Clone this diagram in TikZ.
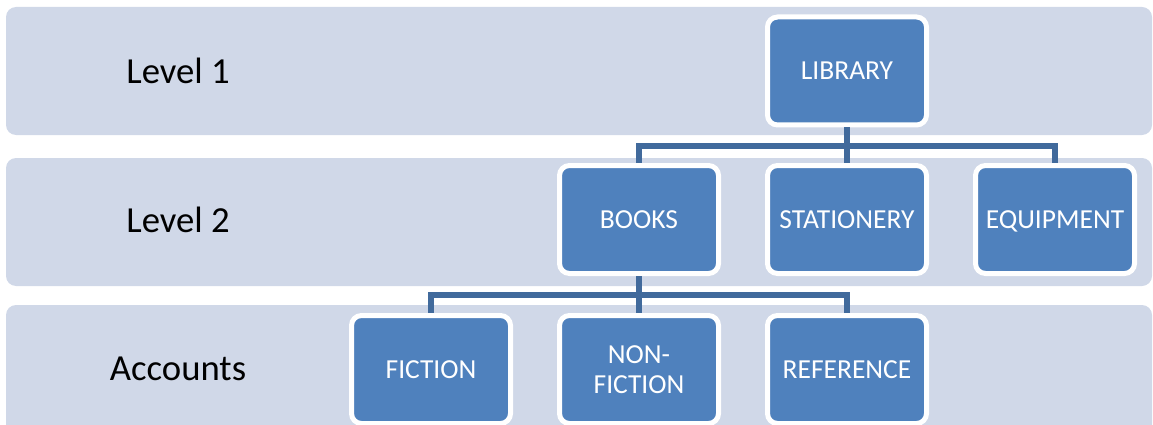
\documentclass[tikz,border=0pt]{standalone}
\usepackage{fontspec}
\setmainfont{Carlito}
\definecolor{band}{HTML}{D0D8E8}
\definecolor{boxfill}{HTML}{4F81BD}
\definecolor{conncol}{HTML}{416A9C}
\begin{document}
\begin{tikzpicture}[x=1pt,y=-1pt,
  bandbox/.style={fill=band, rounded corners=10pt},
  orgbox/.style={draw=white, line width=5pt, fill=boxfill, rounded corners=10pt,
    minimum width=159pt, minimum height=108pt, inner sep=0pt, text=white,
    font=\fontsize{27.5}{30}\selectfont, align=center, text depth=0pt},
  oneline/.style={text height=17.7pt},
  lvl/.style={font=\fontsize{36.7}{40}\selectfont, text=black, inner sep=0pt},
  link/.style={draw=conncol, line width=5.5pt}]
\useasboundingbox (0,0) rectangle (1153,425);
\clip (0,0) rectangle (1153,425);
% bands
\fill[bandbox] (6,7) rectangle (1152,135);
\fill[bandbox] (6,158) rectangle (1152,286);
\fill[bandbox] (6,305) rectangle (1152,445);
% labels
\node[lvl] (l1) at (178,71) {Level 1};
\node[lvl] (l2) at (178,220) {Level 2};
\node[lvl] (l3) at (178,369) {Accounts};
% boxes
\node[orgbox,oneline] (lib) at (847,71) {LIBRARY};
\node[orgbox,oneline] (books) at (639,219.5) {BOOKS};
\node[orgbox,oneline] (stat) at (847,219.5) {STATIONERY};
\node[orgbox,oneline] (equip) at (1055,219.5) {EQUIPMENT};
\node[orgbox,oneline] (fic) at (431,369.5) {FICTION};
\node[orgbox] (nonfic) at (639,369.5) {NON-\\FICTION};
\node[orgbox,oneline] (ref) at (847,369.5) {REFERENCE};
% connectors
\coordinate (bar1) at (0,146);
\coordinate (bar2) at (0,295);
\draw[link] (lib.south) -- (lib.south |- bar1);
\draw[link] (lib.south |- bar1) -| (books.north);
\draw[link] (lib.south |- bar1) -- (stat.north);
\draw[link] (lib.south |- bar1) -| (equip.north);
\draw[link] (books.south) -- (books.south |- bar2);
\draw[link] (books.south |- bar2) -| (fic.north);
\draw[link] (books.south |- bar2) -- (nonfic.north);
\draw[link] (books.south |- bar2) -| (ref.north);
\end{tikzpicture}
\end{document}
